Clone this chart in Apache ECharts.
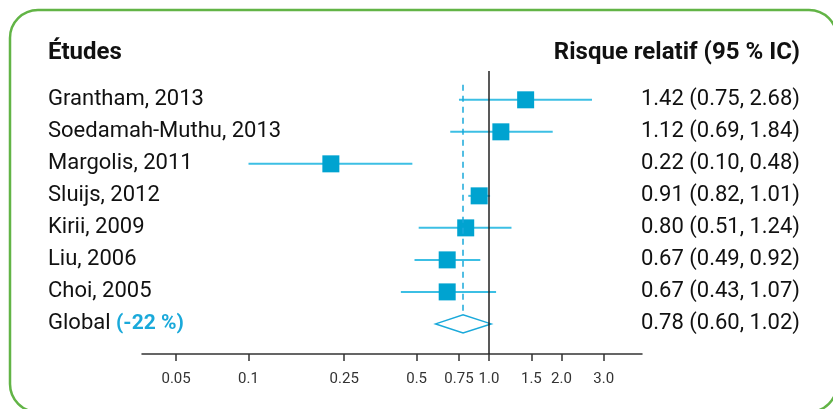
<!DOCTYPE html>
<html><head><meta charset="utf-8">
<script src="https://cdn.jsdelivr.net/npm/echarts@6/dist/echarts.min.js"></script>
<style>html,body{margin:0;padding:0;background:#fff}#c{width:833px;height:409px}</style>
</head><body><div id="c"></div>
<script>
const studies = ['Grantham, 2013','Soedamah-Muthu, 2013','Margolis, 2011','Sluijs, 2012','Kirii, 2009','Liu, 2006','Choi, 2005'];
const rr     = [1.42, 1.12, 0.22, 0.91, 0.80, 0.67, 0.67];
const ciLow  = [0.75, 0.69, 0.10, 0.82, 0.51, 0.49, 0.43];
const ciHigh = [2.68, 1.84, 0.48, 1.01, 1.24, 0.92, 1.07];
const globalLabel = 'Global';
const globalChange = '(-22 %)';
const globalRR = 0.78, globalLow = 0.60, globalHigh = 1.02;
const tickValues = [0.05, 0.1, 0.25, 0.5, 0.75, 1.0, 1.5, 2.0, 3.0];
const tickLabels = ['0.05','0.1','0.25','0.5','0.75','1.0','1.5','2.0','3.0'];
const headerLeft = 'Études';
const headerRight = 'Risque relatif (95 % IC)';

const FONT = 'Roboto';
const SQ = '#00a3d0', LINE = '#3cbfe4', DIAM = '#1aa9da';
const nRows = studies.length + 1;
const rowIdx = Array.from({length: nRows}, (_, i) => i);
const fmt = v => v.toFixed(2);
const rightText = rr.map((v, i) => fmt(v) + ' (' + fmt(ciLow[i]) + ', ' + fmt(ciHigh[i]) + ')')
  .concat([fmt(globalRR) + ' (' + fmt(globalLow) + ', ' + fmt(globalHigh) + ')']);

const chart = echarts.init(document.getElementById('c'), null, {renderer: 'canvas'});
const yBase = {
  type: 'value', inverse: true, min: -0.9, max: 7.94,
  axisLine: {show: false}, axisTick: {show: false}, splitLine: {show: false}
};
chart.setOption({
  animation: false,
  grid: {left: 142, top: 71, width: 500, height: 283, containLabel: false},
  graphic: [
    {type: 'rect', shape: {x: 10, y: 10, width: 827, height: 402, r: 28},
     style: {fill: 'none', stroke: '#62b446', lineWidth: 2.5}, z: -1},
    {type: 'text', x: 48, y: 53, style: {text: headerLeft, font: 'bold 24px ' + FONT, fill: '#111', align: 'left', verticalAlign: 'middle'}},
    {type: 'text', x: 800, y: 53, style: {text: headerRight, font: 'bold 24px ' + FONT, fill: '#111', align: 'right', verticalAlign: 'middle'}}
  ],
  xAxis: {
    type: 'log', logBase: 10, min: 0.03607, max: 4.326,
    axisLine: {show: true, onZero: false, lineStyle: {color: '#333', width: 1.5}},
    axisTick: {show: true, inside: false, length: 7, customValues: tickValues, lineStyle: {color: '#333', width: 1.5}},
    axisLabel: {
      customValues: tickValues, fontSize: 15, fontFamily: FONT, color: '#333', margin: 18,
      formatter: v => {
        let best = 0;
        tickValues.forEach((t, i) => { if (Math.abs(t - v) < Math.abs(tickValues[best] - v)) best = i; });
        return tickLabels[best];
      }
    },
    splitLine: {show: false}, minorTick: {show: false}
  },
  yAxis: [
    Object.assign({}, yBase, {
      position: 'left',
      axisLabel: {
        customValues: rowIdx, align: 'left', margin: 94, fontSize: 22, fontFamily: FONT, color: '#111',
        formatter: v => {
          const i = Math.round(v);
          if (i === studies.length) return '{g|' + globalLabel + ' }{p|' + globalChange + '}';
          return studies[i];
        },
        rich: {
          g: {fontSize: 22, fontFamily: FONT, color: '#111'},
          p: {fontSize: 21, fontFamily: FONT, color: DIAM, fontWeight: 'bold'}
        }
      }
    }),
    Object.assign({}, yBase, {
      position: 'right',
      axisLabel: {
        customValues: rowIdx, align: 'right', margin: 158, fontSize: 22, fontFamily: FONT, color: '#111',
        formatter: v => rightText[Math.round(v)]
      }
    })
  ],
  series: [
    {
      type: 'custom', name: 'ci', xAxisIndex: 0, yAxisIndex: 0,
      encode: {x: [0, 1], y: 2},
      data: rr.map((v, i) => [ciLow[i], ciHigh[i], i]),
      renderItem: (params, api) => {
        const a = api.coord([api.value(0), api.value(2)]);
        const b = api.coord([api.value(1), api.value(2)]);
        return {type: 'line', shape: {x1: a[0], y1: a[1], x2: b[0], y2: b[1]},
                style: {stroke: LINE, lineWidth: 2}};
      },
      z: 2
    },
    {
      type: 'scatter', name: 'rr', xAxisIndex: 0, yAxisIndex: 0,
      data: rr.map((v, i) => [v, i]),
      symbol: 'rect', symbolSize: 17,
      itemStyle: {color: SQ, opacity: 1},
      z: 3,
      markLine: {
        silent: true, symbol: 'none', label: {show: false},
        data: [
          {xAxis: 1, lineStyle: {color: '#222', type: 'solid', width: 1.5}},
          [{coord: [globalRR, -0.47], lineStyle: {color: DIAM, type: [6, 5], width: 1.5}},
           {coord: [globalRR, studies.length - 0.28]}]
        ]
      }
    },
    {
      type: 'custom', name: 'global', xAxisIndex: 0, yAxisIndex: 0,
      encode: {x: [0, 1, 2], y: 3},
      data: [[globalLow, globalRR, globalHigh, studies.length]],
      renderItem: (params, api) => {
        const l = api.coord([api.value(0), api.value(3)]);
        const m = api.coord([api.value(1), api.value(3)]);
        const h = api.coord([api.value(2), api.value(3)]);
        const hh = 9;
        return {type: 'polygon', shape: {points: [[l[0], l[1]], [m[0], m[1] - hh], [h[0], h[1]], [m[0], m[1] + hh]]},
                style: {fill: '#fff', stroke: DIAM, lineWidth: 1.5}};
      },
      z: 4
    }
  ]
});
</script>
</body></html>
